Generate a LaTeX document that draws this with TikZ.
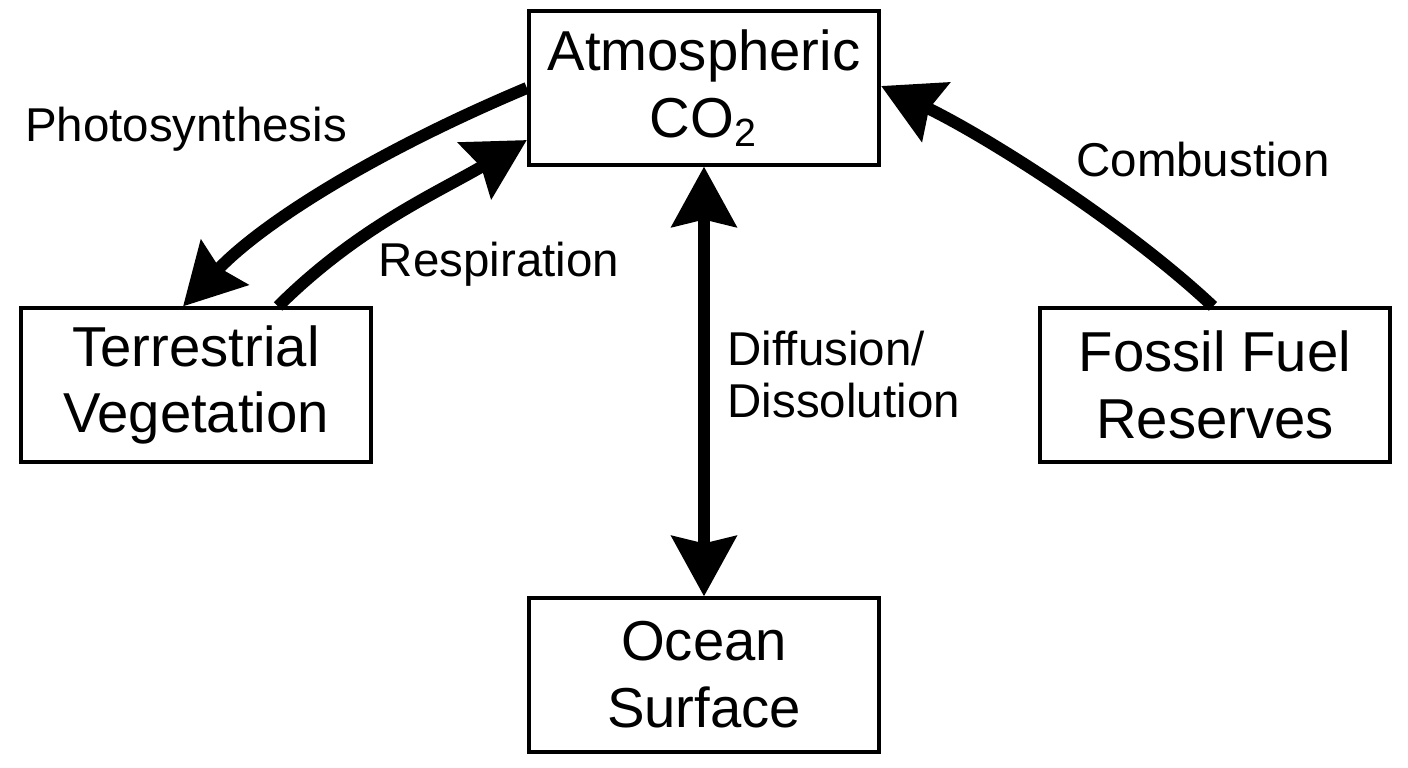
\documentclass[tikz,border=0pt]{standalone}
\usepackage{fontspec}
\setmainfont{Liberation Sans}
\usetikzlibrary{arrows.meta}

\tikzset{
  pool/.style={draw, line width=0.4mm, minimum width=3.5cm, minimum height=1.53cm,
    inner sep=0pt, align=center, font=\fontsize{16}{19}\selectfont},
  flux/.style={line width=1.2mm, -{Stealth[length=6mm,width=6.4mm,inset=0.7mm]}},
  fluxlabel/.style={inner sep=0pt, font=\fontsize{13.5}{15}\selectfont}
}

\begin{document}
\begin{tikzpicture}[x=0.01cm,y=-0.01cm]
  \useasboundingbox (0,0) rectangle (1408,768);

  % carbon pools
  \node[pool] (atm) at (704,88) {Atmospheric\\CO\textsubscript{2}};
  \node[pool] (veg) at (196,385) {Terrestrial\\Vegetation};
  \node[pool] (fossil) at (1215,385) {Fossil Fuel\\Reserves};
  \node[pool] (ocean) at (704,675) {Ocean\\Surface};

  % fluxes
  \draw[flux] (atm.west) .. controls (377,151) and (263,222) .. ([xshift=-0.13cm]veg.north);
  \draw[flux] ([xshift=0.82cm]veg.north) .. controls (358,227) and (437,193) .. ([yshift=-0.52cm]atm.west);
  \draw[flux] ([xshift=-0.02cm]fossil.north) .. controls (1123,222) and (982,134) .. ([yshift=0.02cm]atm.east);
  \draw[flux, {Stealth[length=6mm,width=6.4mm,inset=0.7mm]}-{Stealth[length=6mm,width=6.4mm,inset=0.7mm]}]
    (atm.south) -- (ocean.north);

  % labels
  \node[fluxlabel, anchor=base] (photo) at (186,142) {Photosynthesis};
  \node[fluxlabel, anchor=base] (resp) at (499,277) {Respiration};
  \node[fluxlabel, anchor=base] (comb) at (1203,177) {Combustion};
  \node[fluxlabel, anchor=north west, align=left] (diff) at (727,330) {Diffusion/\\Dissolution};
\end{tikzpicture}
\end{document}
